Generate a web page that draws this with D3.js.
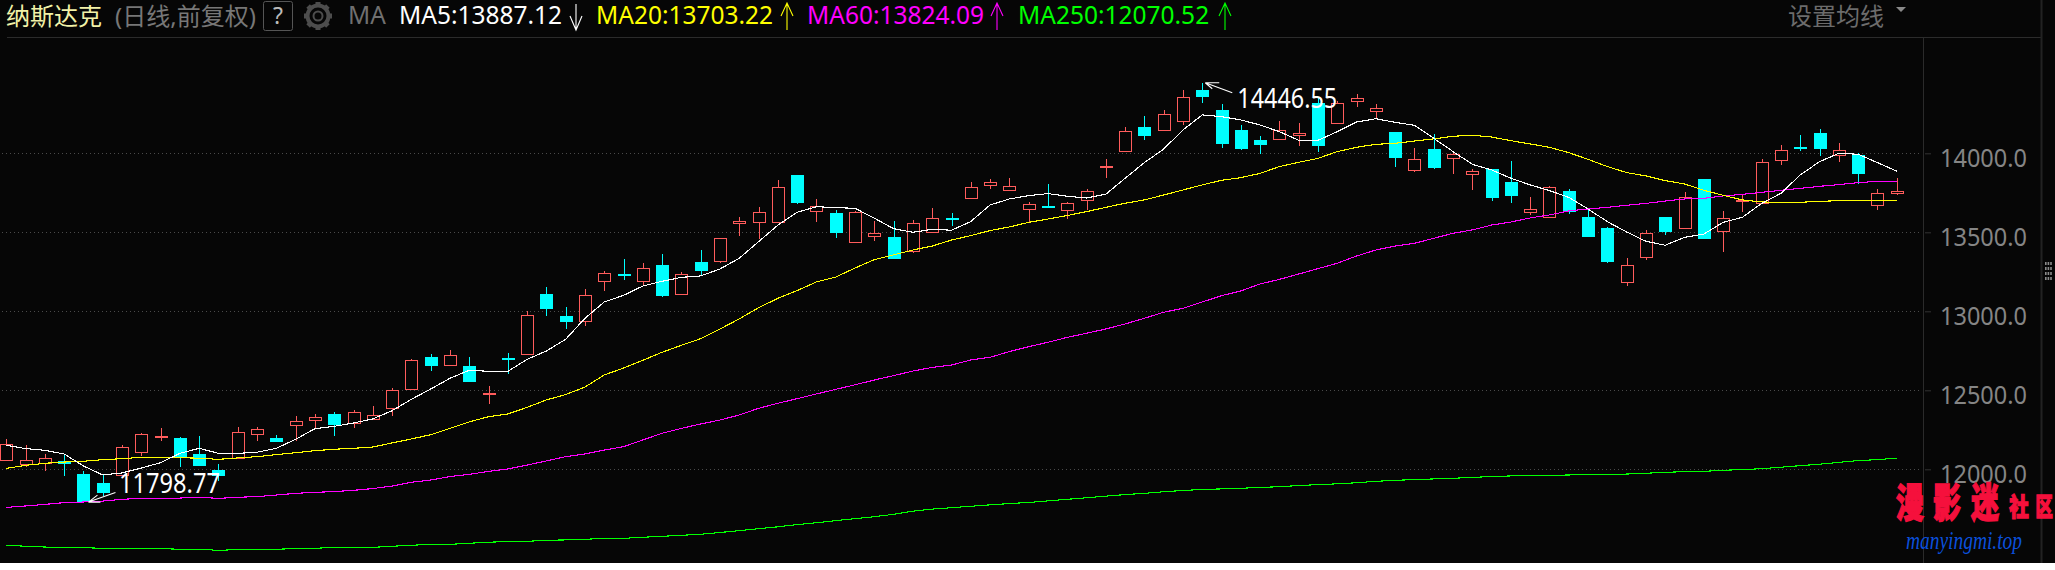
<!DOCTYPE html>
<html><head><meta charset="utf-8">
<script src="https://cdn.jsdelivr.net/npm/d3@7/dist/d3.min.js"></script>
<style>
html,body{margin:0;padding:0;background:#fff;overflow:hidden}
svg{display:block}
text{font-family:"Noto Sans","Noto Sans CJK SC",sans-serif}
</style></head><body><svg id="c" width="2055" height="570"></svg>
<script>
const opens=[12061,12036,12042,12051,11970,11913,11966,12112,12206,12198,
12097,11996,12070,12226,12198,12283,12314,12350,12295,12321,
12386,12511,12711,12662,12654,12478,12703,12732,13110,12971,
12941,13190,13234,13194,13293,13112,13312,13321,13561,13568,
13568,13863,13637,13622,13441,13479,13470,13382,13504,13589,
13719,13797,13770,13650,13665,13643,13707,13915,14017,14167,
14150,14207,14401,14274,14148,14084,14091,14116,14319,14194,
14333,14270,14135,13894,14027,13973,13869,13901,13819,13631,
13595,13762,13597,13527,13188,13346,13597,13529,13838,13510,
13696,13683,13960,14038,14129,13992,13987,13675,13751];
const closes=[12158,12057,12070,12042,11800,11856,12139,12221,12209,12078,
12027,11964,12234,12253,12179,12304,12329,12287,12361,12342,
12502,12690,12660,12722,12559,12481,12700,12975,13021,12939,
13101,13241,13231,13272,13103,13234,13262,13462,13570,13627,
13785,13692,13665,13502,13627,13494,13338,13557,13589,13586,
13785,13817,13791,13677,13662,13684,13760,13918,14139,14116,
14247,14354,14363,14065,14034,14059,14146,14129,14053,14317,
14348,14285,13977,13962,13913,13996,13888,13724,13736,13648,
13785,13635,13477,13318,13291,13494,13508,13721,13464,13589,
13702,13943,14019,14035,14034,14019,13876,13747,13759];
const highs=[12190,12154,12097,12097,11987,11964,12154,12230,12262,12205,
12211,12034,12268,12268,12217,12338,12350,12363,12376,12401,
12515,12698,12730,12755,12711,12527,12736,13000,13154,13028,
13139,13253,13331,13306,13363,13249,13388,13465,13597,13660,
13831,13865,13711,13639,13633,13572,13572,13578,13654,13622,
13819,13838,13844,13692,13806,13690,13772,13964,14167,14236,
14272,14401,14446.55,14312,14179,14110,14205,14192,14359,14330,
14376,14312,14137,14034,14122,14000,13901,13903,13951,13724,
13791,13774,13648,13534,13337,13513,13599,13755,13840,13633,
13740,13962,14053,14116,14154,14065,14000,13774,13844];
const lows=[12061,12017,11992,11958,11798.77,11831,11960,12084,12179,12015,
12021,11926,12066,12179,12173,12179,12255,12211,12262,12319,
12338,12509,12622,12654,12553,12413,12603,12730,12971,12888,
12907,13129,13198,13167,13091,13106,13230,13307,13479,13458,
13566,13679,13565,13464,13439,13445,13336,13369,13496,13540,
13717,13774,13768,13565,13660,13584,13641,13844,14015,14084,
14144,14179,14319,14034,14021,13996,14089,14046,14008,14192,
14295,14217,13913,13882,13901,13869,13768,13698,13686,13610,
13589,13618,13475,13306,13160,13325,13483,13527,13462,13375,
13629,13681,13926,14015,13983,13945,13806,13641,13736];
const ma5=[12152,12131,12120,12097,12021,11964,11977,12008,12042,12101,
12133,12101,12101,12108,12133,12190,12257,12272,12293,12319,
12371,12443,12508,12576,12627,12620,12620,12696,12749,12823,
12956,13059,13101,13160,13190,13215,13224,13268,13336,13441,
13545,13627,13662,13656,13652,13589,13523,13500,13519,13513,
13568,13673,13711,13732,13745,13728,13717,13741,13842,13941,
14027,14148,14243,14232,14211,14179,14137,14082,14082,14137,
14198,14219,14196,14177,14095,14011,13930,13895,13842,13800,
13764,13721,13648,13567,13502,13443,13418,13468,13489,13563,
13595,13683,13747,13863,13947,14000,13994,13941,13887.12];
const ma20=[12006,12025,12038,12046,12051,12061,12067,12076,12076,12074,
12070,12063,12072,12080,12093,12105,12118,12127,12133,12141,
12167,12192,12219,12259,12300,12333,12350,12392,12439,12473,
12521,12597,12641,12690,12741,12785,12827,12888,12952,13023,
13082,13131,13186,13217,13274,13327,13357,13388,13413,13451,
13479,13511,13534,13563,13584,13606,13631,13658,13684,13705,
13736,13768,13800,13829,13846,13873,13916,13943,13968,14011,
14038,14057,14063,14078,14091,14108,14114,14103,14080,14059,
14038,14004,13962,13916,13878,13857,13827,13806,13766,13734,
13705,13692,13690,13690,13696,13700,13703,13703,13703.22];
const ma60=[11759,11768,11778,11789,11793,11799,11810,11816,11816,11818,
11823,11816,11823,11827,11837,11848,11854,11859,11867,11878,
11894,11918,11932,11954,11968,11987,12002,12027,12053,12080,
12097,12122,12143,12186,12228,12259,12287,12312,12344,12386,
12418,12447,12477,12506,12535,12565,12593,12622,12645,12660,
12692,12709,12745,12776,12804,12835,12861,12888,12920,12956,
12994,13019,13059,13099,13129,13173,13202,13236,13270,13304,
13350,13388,13413,13430,13462,13494,13515,13546,13565,13591,
13610,13635,13648,13658,13671,13683,13698,13711,13715,13730,
13740,13753,13766,13778,13791,13802,13814,13823,13824.09];
const ma250=[11519,11513,11508,11506,11504,11500,11500,11500,11498,11494,
11494,11487,11492,11494,11494,11498,11500,11506,11506,11506,
11513,11519,11525,11525,11532,11538,11544,11544,11551,11553,
11557,11563,11563,11570,11576,11582,11589,11600,11612,11624,
11636,11650,11662,11675,11688,11700,11715,11735,11748,11757,
11766,11775,11783,11790,11800,11810,11820,11830,11840,11848,
11858,11866,11872,11876,11880,11885,11890,11897,11903,11908,
11915,11924,11930,11935,11939,11943,11949,11954,11958,11960,
11962,11964,11968,11968,11970,11975,11981,11985,11987,11994,
11998,12004,12013,12023,12032,12044,12055,12061,12070.52];
const tickValues=[12000,12500,13000,13500,14000];
const maNames=["MA5:13887.12","MA20:13703.22","MA60:13824.09","MA250:12070.52"];
const maColors=["#ffffff","#ffff00","#ff00ff","#00ff00"];
const maDirs=["down","up","up","up"];
const maTextX=[399,596,807,1018];
const maArrowX=[576,787,997,1225];

const BG="#060606",RED="#ff5c5c",CYAN="#00ffff";
const svg=d3.select("#c");
const x=d3.scaleLinear().domain([0,opens.length-1]).range([6.3,1896.7]);
const y=d3.scaleLinear().domain([12000,14000]).range([469.3,153.3]);
const idx=d3.range(opens.length);

svg.append("rect").attr("width",2055).attr("height",563).attr("fill",BG);

// header
const txt=(s,xx,yy,fill,size)=>svg.append("text").attr("x",xx).attr("y",yy).attr("fill",fill).attr("font-size",size).text(s);
txt("纳斯达克",6,25,"#f2f2a8",24);
txt("(日线,前复权)",115,25,"#777777",24);
svg.append("rect").attr("x",263.5).attr("y",1.5).attr("width",29).attr("height",29).attr("rx",2).attr("fill","none").attr("stroke","#555");
txt("?",278,24,"#bbbbbb",23).attr("text-anchor","middle");
const gear=svg.append("g").attr("transform","translate(318,16)");
gear.append("circle").attr("r",10.5).attr("fill","none").attr("stroke","#4d4d4d").attr("stroke-width",4);
gear.append("circle").attr("r",4.5).attr("fill","none").attr("stroke","#4d4d4d").attr("stroke-width",2);
d3.range(8).forEach(k=>gear.append("rect").attr("x",-2.5).attr("y",-14).attr("width",5).attr("height",4).attr("fill","#4d4d4d").attr("transform",`rotate(${k*45})`));
txt("MA",348,24.3,"#707070",24.5);
const headArrow=(cx,dir,color)=>svg.append("path").attr("fill","none").attr("stroke",color).attr("stroke-width",1.1)
   .attr("d",dir==="up"?`M${cx},30V3M${cx-6},16L${cx},3L${cx+6},16`:`M${cx},4V30M${cx-6},16L${cx},30L${cx+6},16`);
maNames.forEach((s,i)=>{txt(s,maTextX[i],24.3,maColors[i],24.5);headArrow(maArrowX[i],maDirs[i],maColors[i]);});
txt("设置均线",1788,25,"#6c6c6c",24);
svg.append("path").attr("d","M1900,7h10l-5,5z").attr("fill","#8a8a8a").attr("transform","translate(-4,0)");
svg.append("line").attr("x1",7).attr("x2",2041).attr("y1",37.5).attr("y2",37.5).attr("stroke","#2b2b2b");

// grid
svg.append("g").selectAll("line").data(tickValues).join("line")
 .attr("x1",2).attr("x2",1922).attr("y1",d=>Math.round(y(d))+.5).attr("y2",d=>Math.round(y(d))+.5)
 .attr("stroke","#4a4a4a").attr("stroke-dasharray","1 3");

// panel lines
svg.append("line").attr("x1",1923.5).attr("x2",1923.5).attr("y1",38).attr("y2",563).attr("stroke","#2a2a2a");
svg.append("line").attr("x1",2041.5).attr("x2",2041.5).attr("y1",0).attr("y2",563).attr("stroke","#222222").attr("stroke-width",2);
[0,1,2,3].forEach(r=>[0,1,2].forEach(c=>svg.append("rect").attr("x",2045+c*2.6).attr("y",262+r*5).attr("width",1.6).attr("height",3).attr("fill","#8a8a8a")));

// axis
const axis=svg.append("g").attr("transform","translate(1925,0)")
 .call(d3.axisRight(y).tickValues(tickValues).tickFormat(d=>d.toFixed(1)).tickSize(6).tickPadding(9));
axis.select(".domain").remove();
axis.selectAll("line").attr("stroke","#333333");
axis.selectAll("text").attr("fill","#858585").attr("font-size",24.6).attr("dy",12.7)
 .attr("textLength",87).attr("lengthAdjust","spacingAndGlyphs")
 .style("font-family",'"Noto Sans",sans-serif');

// candles
const cg=svg.append("g").attr("shape-rendering","crispEdges");
const color=i=>closes[i]>=opens[i]?RED:CYAN;
cg.selectAll("line").data(idx).join("line")
 .attr("x1",i=>Math.round(x(i))+.5).attr("x2",i=>Math.round(x(i))+.5)
 .attr("y1",i=>y(highs[i])).attr("y2",i=>y(lows[i])).attr("stroke",color);
cg.selectAll("rect").data(idx).join("rect")
 .attr("x",i=>Math.round(x(i))-6).attr("width",12)
 .attr("y",i=>Math.round(y(Math.max(opens[i],closes[i])))+.5)
 .attr("height",i=>Math.max(Math.round(y(Math.min(opens[i],closes[i])))-Math.round(y(Math.max(opens[i],closes[i]))),0.5))
 .attr("fill",i=>closes[i]>=opens[i]?BG:CYAN)
 .attr("stroke",color).attr("transform","translate(.5,0)");

// moving averages
const line=d3.line().x((d,i)=>x(i)).y(d=>y(d));
[[ma250,"#00ff00"],[ma60,"#ff00ff"],[ma20,"#ffff00"],[ma5,"#ffffff"]].forEach(([s,c])=>{
  svg.append("path").datum(s).attr("d",line).attr("fill","none").attr("stroke",c).attr("stroke-width",1.1).attr("shape-rendering","crispEdges");
});

// extreme annotations
const iMin=d3.minIndex(lows),iMax=d3.maxIndex(highs);
const tipMin=[x(iMin)+5,y(lows[iMin])+1],tipMax=[x(iMax)+3,y(highs[iMax])];
svg.append("path").attr("fill","none").attr("stroke","#fff").attr("stroke-width",1.1)
 .attr("d",`M${tipMin[0]+27},${tipMin[1]-9.5}L${tipMin[0]},${tipMin[1]}L${tipMin[0]+12},${tipMin[1]}M${tipMin[0]},${tipMin[1]}L${tipMin[0]+9},${tipMin[1]-7}`);
svg.append("text").attr("x",tipMin[0]+30.5).attr("y",tipMin[1]-9.5).attr("fill","#fff").attr("font-size",26.5)
 .attr("textLength",101).attr("lengthAdjust","spacingAndGlyphs").text(lows[iMin].toFixed(2));
svg.append("path").attr("fill","none").attr("stroke","#fff").attr("stroke-width",1.1)
 .attr("d",`M${tipMax[0]+27},${tipMax[1]+10}L${tipMax[0]},${tipMax[1]}L${tipMax[0]+14},${tipMax[1]}M${tipMax[0]},${tipMax[1]}L${tipMax[0]+7},${tipMax[1]+6}`);
svg.append("text").attr("x",tipMax[0]+32).attr("y",tipMax[1]+25).attr("fill","#fff").attr("font-size",26.5)
 .attr("textLength",100).attr("lengthAdjust","spacingAndGlyphs").text(highs[iMax].toFixed(2));

// watermark
const wm=(s,cx,base,sx,sy,size)=>svg.append("text").attr("transform",`translate(${cx},${base}) scale(${sx},${sy})`)
 .attr("text-anchor","middle").attr("font-size",size).attr("font-weight",900).attr("fill","#f5103c").attr("stroke","#f5103c").attr("stroke-width",1.2)
 .style("font-family",'"Noto Sans CJK SC"').text(s);
wm("漫",1910,517,.8,1.15,35);wm("影",1947,517,.8,1.15,35);wm("迷",1985,517,.8,1.15,35);
wm("社",2019,516,.85,1.1,23);wm("区",2044,516,.75,1.1,23);
svg.append("text").attr("x",1906).attr("y",549).attr("fill","#0b50dc").attr("font-size",25)
 .attr("font-style","italic").style("font-family",'"Liberation Serif",serif')
 .attr("textLength",116).attr("lengthAdjust","spacingAndGlyphs").text("manyingmi.top");
</script></body></html>
